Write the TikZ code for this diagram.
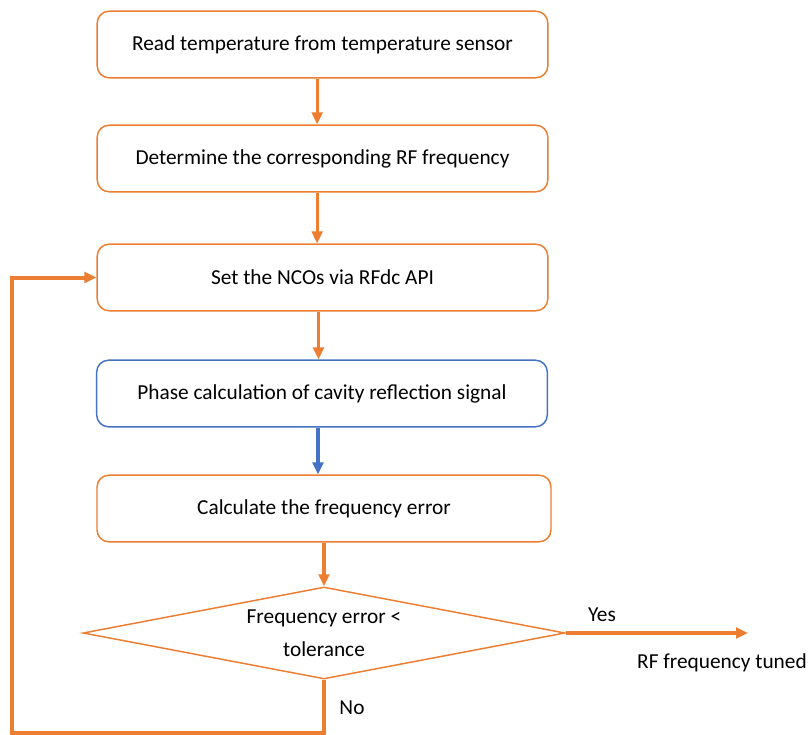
\documentclass[tikz,border=0pt]{standalone}
\usepackage{fontspec}
\setmainfont{Carlito}
\usetikzlibrary{arrows.meta,shapes.geometric}
\definecolor{orangeline}{RGB}{237,125,49}
\definecolor{blueline}{RGB}{68,114,196}
\tikzset{
  stepbox/.style={draw=orangeline,line width=1.1pt,rounded corners=9pt,fill=white,
    minimum width=338pt,minimum height=50pt,inner sep=0pt,font=\fontsize{16}{19}\selectfont},
  checkbox/.style={draw=orangeline,line width=1.1pt,shape=diamond,shape aspect=5,inner sep=0pt,
    minimum width=361.5pt,minimum height=69pt,align=center,font=\fontsize{16}{25}\selectfont},
  flow/.style={draw=orangeline,line width=2.4pt,-{Triangle[length=9pt,width=8pt]}},
  label/.style={font=\fontsize{16}{19}\selectfont}
}
\begin{document}
\begin{tikzpicture}[x=0.75pt,y=0.75pt,yscale=-1,xscale=1]
\path[use as bounding box] (0,0) rectangle (808,735);
% Boxes
\node[stepbox] (read) at (322.5,44.5) {Read temperature from temperature sensor};
\node[stepbox] (freq) at (322.5,158.5) {Determine the corresponding RF frequency};
\node[stepbox] (nco) at (322.5,277.5) {Set the NCOs via RFdc API};
\node[stepbox,draw=blueline] (phase) at (322,393.5) {Phase calculation of cavity reflection signal};
\node[stepbox,minimum width=340.5pt] (err) at (324,508.5) {Calculate the frequency error};
% Decision
\node[checkbox] (check) at (324,633) {Frequency error <\\tolerance};
% Text Node
\node[label] (yes) at (602,615) {Yes};
\node[label] (tuned) at (722,663) {RF frequency tuned};
\node[label] (no) at (352,708) {No};
\coordinate (out) at (748,633);
\coordinate (back) at (12,733);
% Arrows
\draw[flow] ([xshift=-4pt]read.south) -- ([xshift=-4pt]freq.north);
\draw[flow] ([xshift=-4pt]freq.south) -- ([xshift=-4pt]nco.north);
\draw[flow] ([xshift=-3pt]nco.south) -- ([xshift=-3pt]nco.south |- phase.north);
\draw[flow,draw=blueline] ([xshift=-3pt]phase.south) -- ([xshift=-3pt]phase.south |- err.north);
\draw[flow] (err.south) -- (check.north);
\draw[flow] (check.east) -- (out);
\draw[flow,line width=3pt] (check.south) |- (back) |- (nco.west);
\end{tikzpicture}
\end{document}
